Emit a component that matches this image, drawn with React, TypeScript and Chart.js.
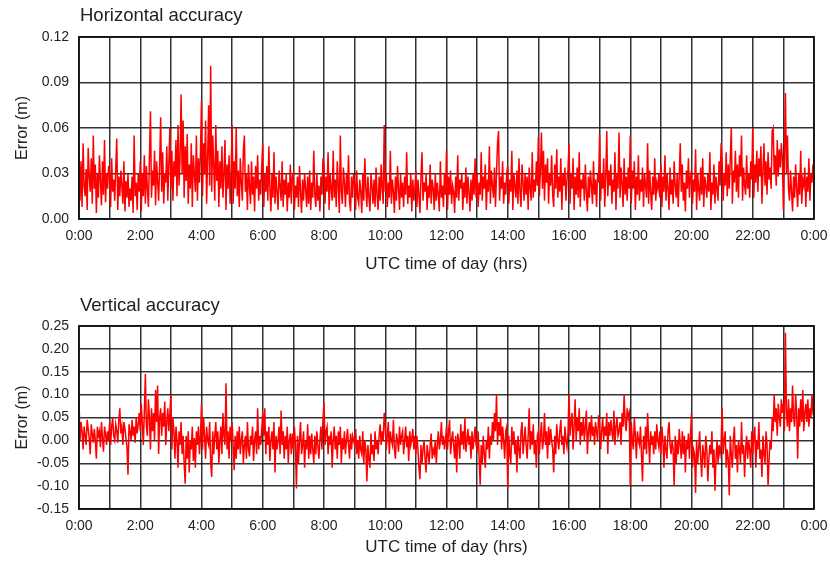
import React, { useEffect, useRef } from "react";
import { Chart, registerables } from "chart.js";

Chart.register(...registerables);

// Sampling interval of the series (minutes) and time-of-day tick labels
const SAMPLE_MINUTES = 2;
const X_TICK_LABELS = ["0:00", "2:00", "4:00", "6:00", "8:00", "10:00", "12:00", "14:00", "16:00", "18:00", "20:00", "22:00", "0:00"];

const PANEL_TITLES = ["Horizontal accuracy", "Vertical accuracy"];
const X_TITLE = "UTC time of day (hrs)";
const Y_TITLE = "Error (m)";

// Horizontal error (mm), one row per hour, 30 samples per hour
const HORIZONTAL_ERROR_MM = [
  45, 12, 38, 8, 50, 22, 15, 33, 6, 47, 28, 18, 40, 10, 55, 20, 36, 4, 30, 14, 42, 25, 9, 38, 16, 52, 11, 30, 20, 35,
  30, 8, 40, 18, 26, 12, 34, 53, 6, 28, 15, 32, 22, 10, 38, 5, 25, 14, 30, 8, 20, 12, 28, 4, 55, 15, 24, 6, 30, 18,
  38, 5, 30, 15, 42, 10, 35, 20, 8, 40, 71, 14, 32, 22, 45, 9, 38, 25, 12, 36, 67, 18, 44, 10, 30, 24, 48, 12, 36, 60,
  20, 45, 12, 38, 28, 52, 15, 62, 22, 40, 82, 30, 65, 14, 48, 25, 56, 10, 36, 20, 50, 8, 42, 30, 18, 55, 12, 40, 24, 44,
  78, 15, 50, 30, 65, 10, 40, 75, 22, 101, 18, 55, 35, 12, 62, 25, 45, 8, 38, 20, 48, 14, 30, 52, 6, 36, 20, 42, 10, 30,
  62, 10, 38, 20, 60, 15, 32, 8, 40, 24, 12, 45, 55, 18, 30, 6, 36, 22, 10, 38, 16, 28, 5, 35, 20, 42, 12, 26, 16, 35,
  50, 8, 30, 18, 35, 12, 48, 20, 5, 30, 14, 44, 10, 28, 18, 6, 32, 22, 12, 38, 8, 26, 16, 30, 5, 24, 14, 36, 10, 28,
  30, 6, 22, 14, 28, 8, 35, 18, 4, 26, 12, 30, 20, 8, 28, 10, 32, 6, 24, 14, 45, 16, 8, 30, 12, 22, 5, 28, 16, 40,
  36, 10, 28, 18, 44, 6, 30, 20, 12, 45, 14, 26, 8, 38, 22, 4, 55, 18, 10, 34, 24, 8, 30, 16, 42, 12, 5, 28, 14, 30,
  24, 6, 32, 14, 10, 26, 18, 4, 30, 12, 40, 20, 8, 28, 14, 5, 30, 22, 10, 26, 8, 34, 16, 6, 28, 12, 36, 20, 10, 62,
  18, 30, 8, 24, 14, 45, 10, 26, 18, 4, 28, 12, 35, 20, 6, 30, 14, 24, 8, 28, 16, 44, 10, 22, 14, 30, 5, 26, 12, 20,
  32, 8, 26, 16, 4, 28, 44, 12, 24, 18, 30, 6, 22, 14, 36, 10, 26, 20, 6, 30, 12, 24, 16, 5, 38, 14, 22, 8, 30, 16,
  45, 6, 28, 16, 32, 10, 22, 18, 4, 28, 14, 42, 12, 26, 20, 30, 6, 24, 14, 34, 10, 28, 18, 5, 26, 12, 30, 16, 40, 14,
  30, 8, 24, 16, 44, 12, 28, 20, 36, 6, 26, 18, 48, 10, 32, 22, 14, 34, 8, 30, 50, 58, 12, 28, 20, 38, 10, 24, 16, 30,
  35, 10, 26, 18, 45, 6, 30, 22, 14, 32, 10, 40, 18, 8, 36, 24, 12, 30, 16, 28, 6, 34, 20, 12, 44, 14, 26, 18, 38, 22,
  54, 15, 32, 57, 20, 45, 12, 36, 24, 40, 10, 30, 22, 42, 16, 8, 36, 20, 46, 14, 28, 18, 40, 6, 30, 22, 34, 12, 26, 32,
  50, 10, 30, 20, 40, 6, 28, 16, 34, 14, 44, 8, 26, 20, 30, 12, 36, 18, 5, 28, 14, 32, 22, 10, 38, 16, 26, 8, 30, 24,
  56, 12, 30, 20, 40, 8, 28, 58, 15, 32, 22, 36, 10, 26, 18, 44, 6, 30, 20, 57, 14, 34, 24, 8, 40, 16, 28, 12, 34, 20,
  55, 10, 32, 20, 38, 6, 28, 16, 42, 12, 26, 18, 34, 8, 30, 22, 14, 50, 10, 32, 18, 6, 28, 16, 40, 12, 24, 20, 30, 14,
  36, 8, 28, 18, 42, 12, 30, 20, 6, 34, 16, 26, 10, 38, 22, 14, 30, 8, 28, 50, 18, 36, 12, 24, 5, 32, 20, 40, 14, 28,
  32, 10, 26, 18, 46, 6, 30, 20, 12, 34, 16, 40, 8, 28, 22, 14, 30, 18, 44, 6, 24, 16, 36, 10, 28, 20, 12, 38, 22, 50,
  38, 12, 30, 22, 44, 15, 36, 20, 40, 60, 10, 32, 24, 45, 18, 36, 14, 42, 28, 55, 12, 34, 22, 16, 42, 20, 30, 14, 38, 26,
  60, 14, 36, 24, 45, 18, 40, 28, 48, 10, 32, 50, 22, 38, 16, 44, 26, 34, 20, 58, 60, 30, 42, 22, 52, 28, 46, 34, 50, 40,
  6, 40, 83, 30, 55, 20, 12, 32, 18, 5, 28, 14, 36, 20, 8, 30, 16, 45, 10, 26, 22, 34, 8, 28, 18, 40, 12, 30, 24, 36,
  30,
];

// Vertical error (mm), one row per hour, 30 samples per hour
const VERTICAL_ERROR_MM = [
  90, 0, 40, 20, -20, 30, 10, -10, 45, 25, 5, -30, 35, 15, -5, 25, 0, -40, 30, 10, 20, -15, 40, 5, -25, 30, 15, -10, 20, 0,
  40, -10, 30, 50, 10, 0, 35, 20, -5, 45, 70, 15, 30, -10, 40, 25, 5, -15, -75, 35, 20, 0, 45, 10, 30, -5, 50, 15, 35, 60,
  20, 80, 40, -10, 60, 145, 30, 10, 90, 50, -20, 70, 20, 60, 0, 110, 40, 120, -30, 50, 70, 10, 60, 30, 85, -10, 40, 70, 20, 60,
  100, -20, 50, 20, -40, 30, 0, -60, 20, -10, 40, -30, 10, -50, -95, 10, -40, 20, -70, 0, -20, 30, -45, 5, -60, 20, -10, 30, -30, 10,
  80, -20, 50, 10, -40, 30, 0, -10, 40, -50, -80, 20, -30, 10, 40, -20, 20, -50, 0, 30, -30, 60, 10, -10, 125, -20, 20, -40, 30, 0,
  40, -10, -65, 10, -40, 20, -20, 30, -30, 0, 20, -50, -10, 10, -40, 40, -20, -35, 10, -10, 30, -45, 0, 20, -30, 70, -20, 10, -10, 25,
  60, 10, 70, -30, 20, -10, 30, -45, 0, 20, -20, 40, -70, 10, -20, 0, 30, -30, 65, -10, 20, -40, 10, -20, 30, -50, 0, 15, -30, 15,
  -20, 30, -10, -105, 10, -50, 0, 40, -30, -10, 20, -60, 0, -20, 35, -40, 10, -30, 15, -20, -50, 10, -30, 20, -10, -40, 0, 30, -20, 45,
  83, -10, 20, 30, -30, 10, -10, 20, -60, 0, 30, -20, 10, -40, 20, -10, 30, -50, 5, -20, 20, -30, 0, 25, -10, -40, 15, -20, 10, 0,
  -10, 25, -30, 0, -40, 10, -20, -30, 20, -50, 0, -20, -90, -10, -40, -60, 15, -30, -10, -45, 20, -20, 0, -30, 10, 35, -10, 20, 0, 60,
  30, -20, 10, 40, -30, 20, 0, -10, 45, -20, -40, 15, 0, -25, 30, -10, 10, 20, -30, 0, 30, -15, 10, -45, 20, -10, 5, 25, -20, 10,
  -30, 10, -20, -60, -85, -10, -50, -20, 0, -40, -70, -10, -30, -50, -10, 15, -40, -20, -30, 0, -50, -10, 20, -20, 0, 40, -10, 10, -20, 0,
  30, -20, 20, 45, -30, 0, 20, -10, -40, 10, -70, 15, 0, -40, 35, -10, 20, -20, 50, -25, 0, 25, -10, 10, -40, 20, -20, 5, 30, -10,
  -20, 20, -40, -97, -10, -50, 10, -30, -60, 0, -20, 30, -40, 10, -10, 40, 0, 60, 20, 100, -10, 40, 10, 50, -20, 30, 0, -40, 20, 30,
  -104, 10, -30, -50, 30, -10, 20, -30, 0, -70, 10, -20, -40, 20, 40, -30, 0, 30, -10, -40, 10, 70, -20, 20, -10, 35, -30, 0, -60, 10,
  20, -30, 10, 40, -20, 0, 60, -10, 20, -40, 30, -10, 25, 0, -20, -70, 10, -30, 35, 0, -20, 20, 45, -10, 10, -30, 30, 0, -15, 15,
  100, 10, 40, 60, -20, 30, 90, 0, 50, 20, 70, -10, 40, 10, 50, 0, 30, 65, -30, 20, 40, 0, 55, 10, 30, -10, 40, 20, 0, 55,
  30, -20, 20, 50, 0, 30, 10, 60, -30, 40, 10, 45, 20, 0, 65, -10, 30, 50, 10, 20, 40, -10, 60, 30, 100, 40, 20, 70, 50, 60,
  -100, 40, 0, -20, 50, 10, -40, 20, 0, -10, 30, -30, -90, 10, -20, 30, -30, 60, 0, -50, 20, -10, 10, -30, 20, -20, 35, 0, -15, 20,
  -30, 30, 0, -60, 10, -20, -40, 20, 40, -10, -30, 0, -20, -100, 10, -50, 0, -30, 25, -10, -40, 20, -30, 10, -70, 0, -20, 15, -40, 10,
  60, -60, -20, -30, -115, 0, -50, -20, 20, -40, -80, -10, -30, -60, 10, -20, -90, -40, -10, -30, 20, -60, -20, -110, -40, 0, -50, -10, -30, -10,
  70, -30, 0, 20, -60, -20, -40, -120, 10, -30, -60, 0, 30, -40, -10, -70, 0, -20, -50, 40, -30, -10, -80, -20, 10, -40, 0, -20, -60, 20,
  -30, 10, 30, -60, 0, -20, 40, -40, -20, -80, 10, -30, -50, 20, -10, -100, -40, 0, -20, 50, 20, 100, 40, 70, 10, 80, 50, 30, 90, 60,
  80, 20, 235, 60, 30, 90, 20, 70, 40, 120, 50, 30, 100, 60, -40, 70, 30, 90, 40, 110, 20, 60, 80, 40, 90, 30, 70, 50, 100, 60,
  50,
];

const MM_PER_M = 1000;

const FONT_FAMILY = '"Liberation Sans", Arial, Helvetica, sans-serif';
const TEXT_COLOR = "#222";
const GRID_COLOR = "rgba(0,0,0,0.8)";
const LINE_COLOR = "#ff0000";

type PanelCfg = {
  title: string;
  valuesMm: number[];
  yMin: number;
  yMax: number;
  yStep: number;
  height: number;
  padTop: number;
  xAxisHeight: number;
  titleY: number;
  xTitleY: number;
};

const panelText = {
  id: "panelText",
  afterDraw(chart: any, _args: any, opts: any) {
    const { ctx, chartArea } = chart;
    ctx.save();
    ctx.strokeStyle = "#111";
    ctx.lineWidth = 1.8;
    ctx.strokeRect(chartArea.left, chartArea.top, chartArea.right - chartArea.left, chartArea.bottom - chartArea.top);
    ctx.fillStyle = TEXT_COLOR;
    ctx.font = `18.5px ${FONT_FAMILY}`;
    ctx.textAlign = "left";
    ctx.textBaseline = "alphabetic";
    ctx.fillText(opts.title, chartArea.left + 1, opts.titleY);
    ctx.font = `17px ${FONT_FAMILY}`;
    ctx.textAlign = "center";
    ctx.fillText(X_TITLE, (chartArea.left + chartArea.right) / 2, opts.xTitleY);
    ctx.font = `16px ${FONT_FAMILY}`;
    ctx.translate(23, (chartArea.top + chartArea.bottom) / 2);
    ctx.rotate(-Math.PI / 2);
    ctx.textAlign = "center";
    ctx.textBaseline = "middle";
    ctx.fillText(Y_TITLE, 0, 0);
    ctx.restore();
  },
};

function Panel({ cfg }: { cfg: PanelCfg }) {
  const ref = useRef<HTMLCanvasElement | null>(null);
  useEffect(() => {
    if (!ref.current) return;
    const points = cfg.valuesMm.map((v, i) => ({ x: (i * SAMPLE_MINUTES) / 60, y: v / MM_PER_M }));
    const tickFont = { family: FONT_FAMILY, size: 14 };
    const chart = new Chart(ref.current, {
      type: "line",
      data: {
        datasets: [
          {
            data: points,
            borderColor: LINE_COLOR,
            borderWidth: 1.5,
            pointRadius: 0,
            tension: 0,
            fill: false,
          },
        ],
      },
      plugins: [panelText],
      options: {
        animation: false,
        responsive: true,
        maintainAspectRatio: false,
        layout: { padding: { top: cfg.padTop, right: 16, bottom: 0, left: 0 } },
        plugins: {
          legend: { display: false },
          tooltip: { enabled: false },
          title: { display: false },
          panelText: { title: cfg.title, titleY: cfg.titleY, xTitleY: cfg.xTitleY },
        } as any,
        scales: {
          x: {
            type: "linear",
            min: 0,
            max: 24,
            z: 1,
            afterFit: (s: any) => {
              s.height = cfg.xAxisHeight;
              s.paddingRight = 0;
              s.paddingLeft = 0;
            },
            grid: { color: GRID_COLOR, lineWidth: 1.5, drawTicks: false },
            border: { display: false },
            ticks: {
              stepSize: 1,
              autoSkip: false,
              maxRotation: 0,
              padding: 9,
              color: TEXT_COLOR,
              font: tickFont,
              callback: (v: any) => {
                const h = Math.round(Number(v));
                return h % 2 === 0 ? X_TICK_LABELS[h / 2] : "";
              },
            },
          },
          y: {
            type: "linear",
            min: cfg.yMin,
            max: cfg.yMax,
            z: 1,
            afterFit: (s: any) => {
              s.width = 79;
              s.paddingTop = 0;
              s.paddingBottom = 0;
            },
            grid: { color: GRID_COLOR, lineWidth: 1.5, drawTicks: false },
            border: { display: false },
            ticks: {
              stepSize: cfg.yStep,
              padding: 10,
              color: TEXT_COLOR,
              font: tickFont,
              callback: (v: any) => {
                const n = Number(v);
                return (Math.abs(n) < 1e-9 ? 0 : n).toFixed(2);
              },
            },
          },
        },
      } as any,
    });
    return () => chart.destroy();
  }, [cfg]);
  return (
    <div style={{ position: "relative", width: 830, height: cfg.height }}>
      <canvas ref={ref} />
    </div>
  );
}

const TOP: PanelCfg = {
  title: PANEL_TITLES[0],
  valuesMm: HORIZONTAL_ERROR_MM,
  yMin: 0,
  yMax: 0.12,
  yStep: 0.03,
  height: 285,
  padTop: 37,
  xAxisHeight: 66,
  titleY: 21,
  xTitleY: 269,
};

const BOTTOM: PanelCfg = {
  title: PANEL_TITLES[1],
  valuesMm: VERTICAL_ERROR_MM,
  yMin: -0.15,
  yMax: 0.25,
  yStep: 0.05,
  height: 280,
  padTop: 41,
  xAxisHeight: 56,
  titleY: 26,
  xTitleY: 267,
};

export default function App() {
  return (
    <div style={{ position: "absolute", left: 0, top: 0, width: 830, height: 565, background: "#fff" }}>
      <Panel cfg={TOP} />
      <Panel cfg={BOTTOM} />
    </div>
  );
}
